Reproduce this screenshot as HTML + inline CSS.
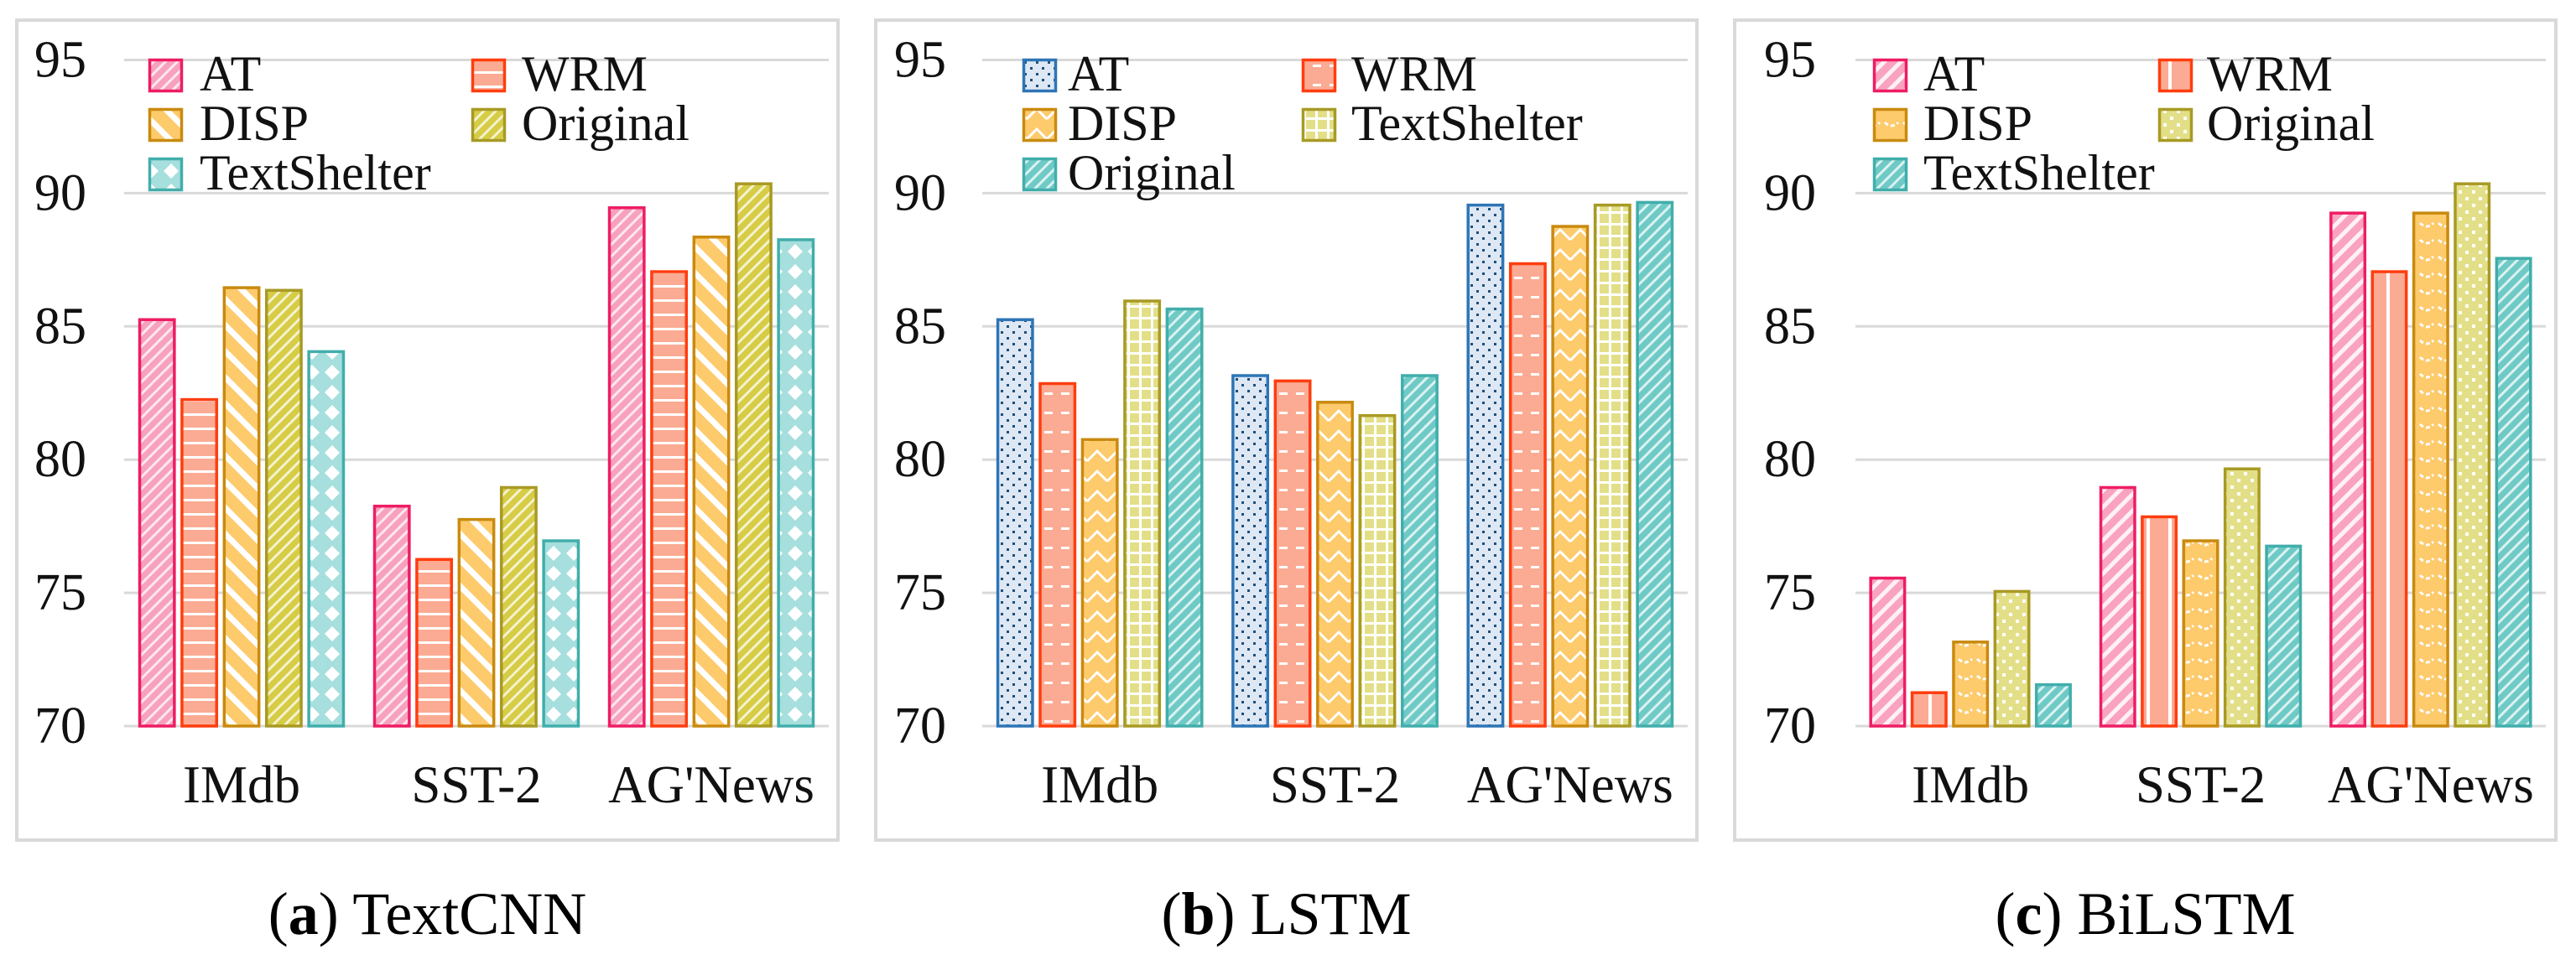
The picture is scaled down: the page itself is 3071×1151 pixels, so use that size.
<!DOCTYPE html>
<html><head><meta charset="utf-8">
<style>
html,body{margin:0;padding:0;background:#fff;}
svg{display:block;}
svg text{font-family:"Liberation Serif","DejaVu Serif",serif;}
</style></head>
<body>
<svg id="fig" width="3071" height="1151" viewBox="0 0 3071 1151" xmlns="http://www.w3.org/2000/svg" font-family="Liberation Serif, serif">
<defs>
  <pattern id="pDiagThin" width="10" height="10" patternUnits="userSpaceOnUse" patternTransform="rotate(45)"><rect x="0" y="0" width="3" height="10" fill="#fff" opacity="0.75"/></pattern>
  <pattern id="pDiagWide" width="14" height="14" patternUnits="userSpaceOnUse" patternTransform="rotate(45)"><rect x="0" y="0" width="5" height="14" fill="#fff" opacity="0.85"/></pattern>
  <pattern id="pBack" width="22" height="22" patternUnits="userSpaceOnUse" patternTransform="rotate(-45)"><rect x="0" y="0" width="7" height="22" fill="#fff"/></pattern>
  <pattern id="pHoriz" width="10" height="17" patternUnits="userSpaceOnUse"><rect x="0" y="0" width="10" height="3" fill="#fff"/></pattern>
  <pattern id="pGridSm" width="14" height="14" patternUnits="userSpaceOnUse"><rect x="0" y="0" width="14" height="3" fill="#fff"/><rect x="0" y="0" width="3" height="14" fill="#fff"/></pattern>
  <pattern id="pDiamond" width="24" height="24" patternUnits="userSpaceOnUse"><polygon points="12,3 21,12 12,21 3,12" fill="#fff"/></pattern>
  <pattern id="pDots" width="14" height="14" patternUnits="userSpaceOnUse"><rect x="3" y="3" width="3" height="3" fill="#1f4e79"/><rect x="10" y="10" width="3" height="3" fill="#1f4e79"/></pattern>
  <pattern id="pDotsW" width="16" height="16" patternUnits="userSpaceOnUse"><rect x="3" y="3" width="4" height="4" fill="#fff"/><rect x="11" y="11" width="4" height="4" fill="#fff"/></pattern>
  <pattern id="pDash" width="20" height="23" patternUnits="userSpaceOnUse"><rect x="5" y="8" width="10" height="3" fill="#fff"/></pattern>
  <pattern id="pZig" width="24" height="24" patternUnits="userSpaceOnUse"><polyline points="0,22 12,10 24,22" fill="none" stroke="#fff" stroke-width="3"/></pattern>
  <pattern id="pScal" width="22" height="20" patternUnits="userSpaceOnUse"><path d="M3,6 Q11,14 19,6" fill="none" stroke="#fff" stroke-width="3" stroke-dasharray="5 3"/></pattern>
  <pattern id="pVert" width="26" height="10" patternUnits="userSpaceOnUse"><rect x="11" y="0" width="4" height="10" fill="#fff"/></pattern>
</defs>
</svg>
<script>
// ---- data ----
const categories = ["IMdb", "SST-2", "AG'News"];
const yTicks = [70, 75, 80, 85, 90, 95];
// Panel (a) TextCNN
const seriesA = ["AT", "WRM", "DISP", "Original", "TextShelter"];
const atA   = [85.3, 78.3, 89.5];
const wrmA  = [82.3, 76.3, 87.1];
const dispA = [86.5, 77.8, 88.4];
const origA = [86.4, 79.0, 90.4];
const tsA   = [84.1, 77.0, 88.3];
// Panel (b) LSTM
const seriesB = ["AT", "WRM", "DISP", "TextShelter", "Original"];
const atB   = [85.3, 83.2, 89.6];
const wrmB  = [82.9, 83.0, 87.4];
const dispB = [80.8, 82.2, 88.8];
const tsB   = [86.0, 81.7, 89.6];
const origB = [85.7, 83.2, 89.7];
// Panel (c) BiLSTM
const seriesC = ["AT", "WRM", "DISP", "Original", "TextShelter"];
const atC   = [75.6, 79.0, 89.3];
const wrmC  = [71.3, 77.9, 87.1];
const dispC = [73.2, 77.0, 89.3];
const origC = [75.1, 79.7, 90.4];
const tsC   = [71.6, 76.8, 87.6];

const NS = "http://www.w3.org/2000/svg";
const FONT = "Liberation Serif, DejaVu Serif, serif";
const svg = document.getElementById('fig');
function mk(tag, attrs, parent){
  const e = document.createElementNS(NS, tag);
  for (const k in attrs) e.setAttribute(k, attrs[k]);
  (parent||svg).appendChild(e);
  return e;
}

const panels = [
  {key:'a', model:'TextCNN', frame:[20,999], plot:[148,988], tickRight:103,
   series:seriesA, values:[atA,wrmA,dispA,origA,tsA],
   styles:[{f:'#f7a1bf',s:'#ee1d62',p:'pDiagThin'},{f:'#fbab93',s:'#ff3d0f',p:'pHoriz'},{f:'#fdca6c',s:'#c98a0f',p:'pBack'},{f:'#d6cc45',s:'#a89a25',p:'pDiagThin'},{f:'#a6dfdd',s:'#41aeab',p:'pDiamond'}],
   leg:[[177,238],[562,622]]},
  {key:'b', model:'LSTM', frame:[1044,2023], plot:[1171,2012], tickRight:1128,
   series:seriesB, values:[atB,wrmB,dispB,tsB,origB],
   styles:[{f:'#dde8f4',s:'#2e75b6',p:'pDots'},{f:'#fbab93',s:'#ff3d0f',p:'pDash'},{f:'#fdca6c',s:'#c98a0f',p:'pZig'},{f:'#e3df88',s:'#a89a25',p:'pGridSm'},{f:'#6fcac6',s:'#41aeab',p:'pDiagThin'}],
   leg:[[1219,1273],[1552,1611]]},
  {key:'c', model:'BiLSTM', frame:[2068,3047], plot:[2212,3035], tickRight:2165,
   series:seriesC, values:[atC,wrmC,dispC,origC,tsC],
   styles:[{f:'#f9a3c0',s:'#ee1d62',p:'pDiagWide'},{f:'#fbab93',s:'#ff3d0f',p:'pVert'},{f:'#fdca6c',s:'#c98a0f',p:'pScal'},{f:'#e3df88',s:'#a89a25',p:'pDotsW'},{f:'#6fcac6',s:'#41aeab',p:'pDiagThin'}],
   leg:[[2233,2293],[2573,2631]]}
];

const Y0 = 866, Y95 = 71.5;
function yScale(v){ return Y0 - (v - 70) * (Y0 - Y95) / 25; }

panels.forEach(P => {
  const g = mk('g', {});
  
  
  const fr = mk('rect', {x:P.frame[0], y:24, width:P.frame[1]-P.frame[0], height:978, fill:'#fff', stroke:'#d9d9d9', 'stroke-width':4}, g);
  
  
  yTicks.forEach(t => {
    const y = yScale(t);
    const gl = mk('line', {x1:P.plot[0], x2:P.plot[1], y1:y, y2:y, stroke:'#d9d9d9', 'stroke-width':3}, g);
    
    
    const tl = mk('text', {x:P.tickRight, y:y+20, 'text-anchor':'end', 'font-size':62, 'font-family':FONT, fill:'#111'}, g);
    tl.textContent = t;
    
    
  });
  const gw = (P.plot[1]-P.plot[0]) / categories.length;
  const pitch = gw * 0.18, bw = pitch * 0.88;
  categories.forEach((c, ci) => {
    const cx = P.plot[0] + gw*(ci+0.5);
    const start = cx - (4*pitch + bw)/2;
    P.values.forEach((arr, si) => {
      const st = P.styles[si];
      const x = start + si*pitch, y = yScale(arr[ci]), h = Y0 - y;
      const bg = mk('g', {}, g);
      
      
      mk('rect', {x:x, y:y, width:bw, height:h, fill:st.f}, bg);
      mk('rect', {x:x, y:y, width:bw, height:h, fill:'url(#'+st.p+')'}, bg);
      mk('rect', {x:x+1.5, y:y+1.5, width:bw-3, height:h-1.5, fill:'none', stroke:st.s, 'stroke-width':3.5}, bg);
    });
    const cl = mk('text', {x:cx, y:957, 'text-anchor':'middle', 'font-size':63, 'font-family':FONT, fill:'#111'}, g);
    cl.textContent = c;
    
    
  });
  P.series.forEach((s, si) => {
    const col = si % 2, row = Math.floor(si / 2);
    const st = P.styles[si];
    const ly = 70 + row*59;
    const lg = mk('g', {}, g);
    
    
    mk('rect', {x:P.leg[col][0], y:ly, width:41, height:40, fill:st.f}, lg);
    mk('rect', {x:P.leg[col][0], y:ly, width:41, height:40, fill:'url(#'+st.p+')'}, lg);
    mk('rect', {x:P.leg[col][0]+1.5, y:ly+1.5, width:38, height:37, fill:'none', stroke:st.s, 'stroke-width':3.5}, lg);
    const lt = mk('text', {x:P.leg[col][1], y:ly+38, 'font-size':60, 'font-family':FONT, fill:'#111'}, lg);
    lt.textContent = s;
  });
  const cap = mk('text', {x:(P.frame[0]+P.frame[1])/2, y:1114, 'text-anchor':'middle', 'font-size':72, 'font-family':FONT, fill:'#000'}, g);
  
  
  const t1 = mk('tspan', {}, cap); t1.textContent = '(';
  const t2 = mk('tspan', {'font-weight':'bold'}, cap); t2.textContent = P.key;
  const t3 = mk('tspan', {}, cap); t3.textContent = ') ' + P.model;
});
</script>
</body></html>
